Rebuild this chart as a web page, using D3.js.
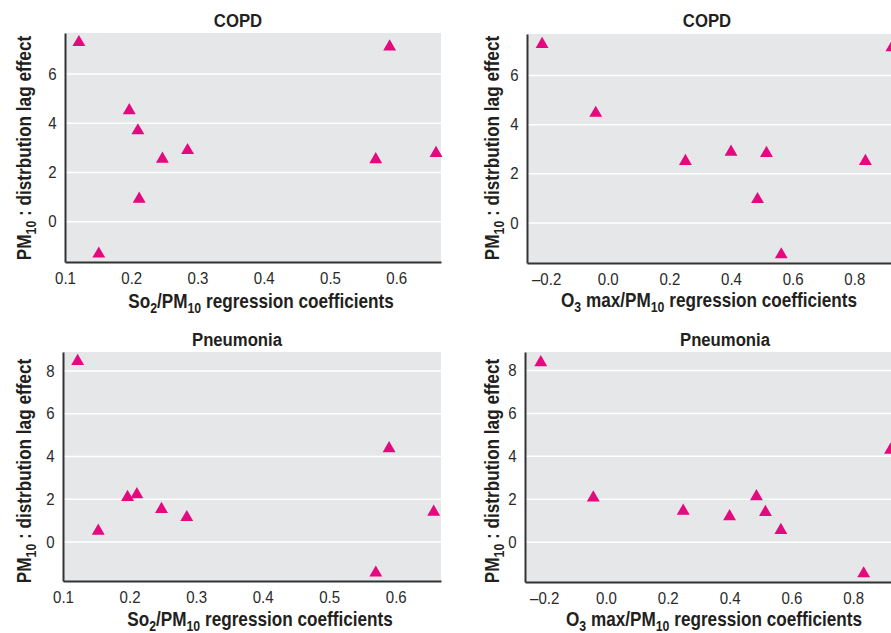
<!DOCTYPE html>
<html>
<head>
<meta charset="utf-8">
<script src="https://cdn.jsdelivr.net/npm/d3@7"></script>
<style>
body { margin: 0; background: #fff; }
svg { display: block; }
text { font-family: "Liberation Sans", Arial, sans-serif; }
</style>
</head>
<body>
<div id="area"></div>
<script>
// values
const so2CopdX = [0.121, 0.151, 0.197, 0.210, 0.212, 0.247, 0.285, 0.569, 0.590, 0.660]
const so2CopdY = [7.29, -1.31, 4.52, 3.70, 0.92, 2.55, 2.90, 2.53, 7.11, 2.78]

const o3CopdX = [-0.213, -0.039, 0.252, 0.400, 0.486, 0.515, 0.563, 0.836, 0.922]
const o3CopdY = [7.27, 4.47, 2.51, 2.89, 0.96, 2.84, -1.29, 2.51, 7.14]

const so2PneuX = [0.122, 0.153, 0.197, 0.211, 0.248, 0.286, 0.570, 0.590, 0.657]
const so2PneuY = [8.46, 0.51, 2.09, 2.22, 1.53, 1.15, -1.45, 4.37, 1.40]

const o3PneuX = [-0.211, -0.041, 0.250, 0.400, 0.487, 0.516, 0.566, 0.834, 0.921]
const o3PneuY = [8.37, 2.07, 1.46, 1.20, 2.13, 1.40, 0.56, -1.46, 4.30]

const so2Ticks = [0.1, 0.2, 0.3, 0.4, 0.5, 0.6]
const o3Ticks = [-0.2, 0, 0.2, 0.4, 0.6, 0.8]
const copdYTicks = [0, 2, 4, 6]
const pneuYTicks = [0, 2, 4, 6, 8]

const titles = ["COPD", "COPD", "Pneumonia", "Pneumonia"]

const width = 891, height = 633
const pink = "#e5097f"
const ink = "#231f20"
const squeeze = 0.88 // fake a condensed face

const panels = [
    {title: titles[0], xs: so2CopdX, ys: so2CopdY, xTicks: so2Ticks, yTicks: copdYTicks, xDom: [0.1, 0.6675], yDom: [-1.64, 7.67],
        left: 65, right: 441, top: 33, bottom: 262, titleX: 238, titleY: 26.5, xlabX: 261, xlabY: 308, ylabX: 31, ylabY: 148, xlab: "so2"},
    {title: titles[1], xs: o3CopdX, ys: o3CopdY, xTicks: o3Ticks, yTicks: copdYTicks, xDom: [-0.262, 0.958], yDom: [-1.63, 7.69],
        left: 527, right: 903, top: 34, bottom: 263, titleX: 707, titleY: 26.5, xlabX: 709, xlabY: 307, ylabX: 499, ylabY: 148, xlab: "o3"},
    {title: titles[2], xs: so2PneuX, ys: so2PneuY, xTicks: so2Ticks, yTicks: pneuYTicks, xDom: [0.1, 0.668], yDom: [-1.83, 8.89],
        left: 63, right: 441, top: 352, bottom: 581, titleX: 237, titleY: 346, xlabX: 260, xlabY: 626, ylabX: 31, ylabY: 471, xlab: "so2"},
    {title: titles[3], xs: o3PneuX, ys: o3PneuY, xTicks: o3Ticks, yTicks: pneuYTicks, xDom: [-0.262, 0.958], yDom: [-1.85, 8.86],
        left: 525, right: 902, top: 352, bottom: 582, titleX: 725, titleY: 346, xlabX: 714, xlabY: 626, ylabX: 499, ylabY: 471, xlab: "o3"}
]

const svg = d3.select("#area").append("svg")
    .attr("width", width)
    .attr("height", height)

const fmt = d => d3.format(".1f")(d).replace("−", "–")

function sub(t, s) {
    t.append("tspan").attr("dy", 5).attr("font-size", 14).text(s)
}

panels.forEach(p => {
    const x = d3.scaleLinear().domain(p.xDom).range([p.left, p.right])
    const y = d3.scaleLinear().domain(p.yDom).range([p.bottom, p.top])
    const g = svg.append("g")

    g.append("rect")
        .attr("x", p.left).attr("y", p.top)
        .attr("width", p.right - p.left).attr("height", p.bottom - p.top)
        .attr("fill", "#e6e7e8")

    // white gridlines
    g.append("g").selectAll("line")
        .data(p.yTicks)
        .join("line")
        .attr("x1", p.left).attr("x2", p.right)
        .attr("y1", d => y(d)).attr("y2", d => y(d))
        .attr("stroke", "#fff")
        .attr("stroke-width", 1.5)

    const yAxis = g.append("g")
        .attr("transform", `translate(${p.left},0)`)
        .call(d3.axisLeft(y).tickValues(p.yTicks).tickSize(0).tickPadding(9))
    const xAxis = g.append("g")
        .attr("transform", `translate(0,${p.bottom})`)
        .call(d3.axisBottom(x).tickValues(p.xTicks).tickFormat(fmt).tickSize(0).tickPadding(10.5))

    ;[xAxis, yAxis].forEach(a => {
        a.attr("font-family", null).attr("font-size", 16)
        a.select(".domain").attr("stroke", "#333").attr("stroke-width", 2)
        a.selectAll("text").attr("fill", "#2a2a2a").attr("transform", "scale(0.94,1)")
    })

    g.append("g").selectAll("path")
        .data(p.xs.map((v, i) => [v, p.ys[i]]))
        .join("path")
        .attr("transform", d => `translate(${x(d[0])},${y(d[1])})`)
        .attr("d", d3.symbol(d3.symbolTriangle, 72))
        .attr("fill", pink)

    g.append("text")
        .attr("transform", `translate(${p.titleX},${p.titleY}) scale(${squeeze},1)`)
        .attr("text-anchor", "middle")
        .attr("font-size", 19).attr("font-weight", "bold")
        .attr("fill", ink)
        .text(p.title)

    // x axis title with subscripts
    const xt = g.append("text")
        .attr("transform", `translate(${p.xlabX},${p.xlabY}) scale(${squeeze},1)`)
        .attr("text-anchor", "middle")
        .attr("font-size", 19.5).attr("font-weight", "bold")
        .attr("fill", ink)
    if (p.xlab === "so2") {
        xt.append("tspan").text("So")
        sub(xt, "2")
        xt.append("tspan").attr("dy", -5).text("/PM")
    } else {
        xt.append("tspan").text("O")
        sub(xt, "3")
        xt.append("tspan").attr("dy", -5).text(" max/PM")
    }
    sub(xt, "10")
    xt.append("tspan").attr("dy", -5).text(" regression coefficients")

    const yt = g.append("text")
        .attr("transform", `translate(${p.ylabX},${p.ylabY}) rotate(-90) scale(${squeeze},1)`)
        .attr("text-anchor", "middle")
        .attr("font-size", 19.5).attr("font-weight", "bold")
        .attr("fill", ink)
    yt.append("tspan").text("PM")
    sub(yt, "10")
    yt.append("tspan").attr("dy", -5).text(" : distrbution lag effect")
})
</script>
</body>
</html>
